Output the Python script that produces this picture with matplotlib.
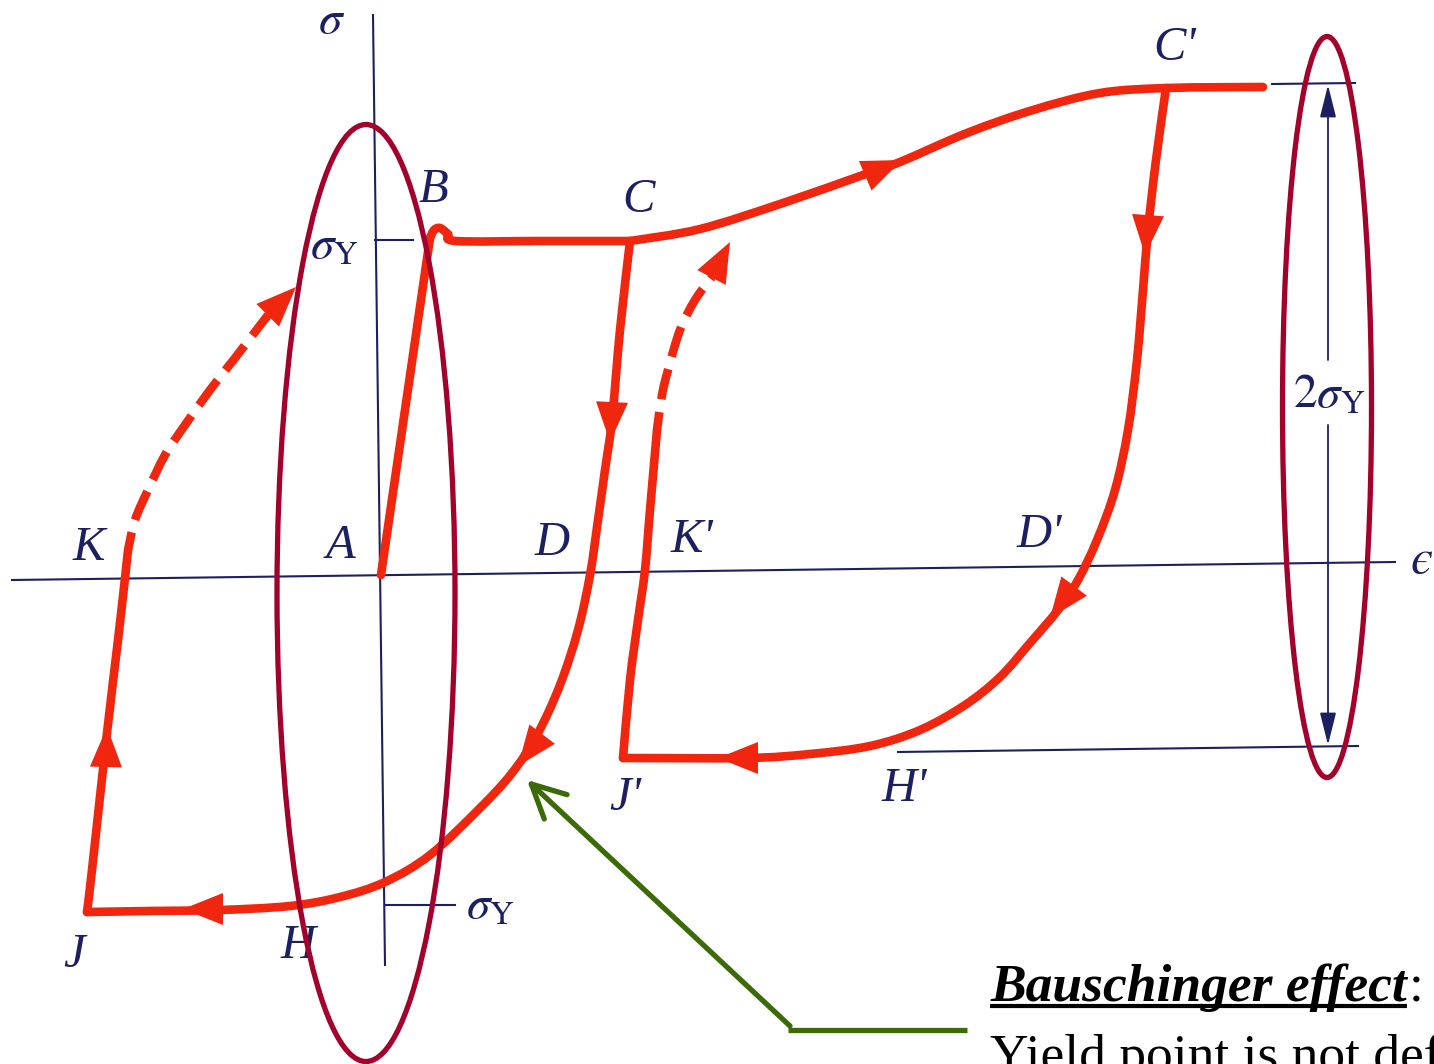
import numpy as np
import matplotlib
matplotlib.use("Agg")
import matplotlib.pyplot as plt
from matplotlib.patches import Ellipse, Polygon, PathPatch
from matplotlib.path import Path

plt.rcParams['mathtext.fontset'] = 'stix'

RED = '#f0260f'
NAVY = '#1c2060'
CRIMSON = '#a3002c'
GREEN = '#3b6a06'

# stress-strain path (pixel coords, y down)
ab_x = [381, 430]
ab_y = [575, 238]
bc_x = [430, 434, 440, 448, 456, 540, 630]
bc_y = [238, 230, 228, 234, 241, 241, 241]

cc_x = [630, 700, 783, 863, 900, 967, 1033, 1100, 1167, 1263]
cc_y = [241, 229, 203, 175, 162, 133, 110, 93, 88, 87]

cdj_x = [1166, 1156, 1148, 1143, 1137, 1128, 1115, 1097, 1078, 1058, 1030, 1000,
         965, 920, 870, 810, 747, 623]
cdj_y = [88, 160, 230, 290, 360, 430, 490, 540, 580, 610, 643, 677,
         705, 730, 746, 754, 758, 758]

jk2_x = [623, 630, 638, 645, 650, 657]
jk2_y = [758, 680, 620, 570, 510, 430]
jk2_dash_x = [657, 662, 668, 680, 695, 712]
jk2_dash_y = [430, 395, 370, 330, 300, 277]

cdh_x = [630, 620, 612, 605, 598, 590, 578, 560, 537, 512, 480, 430, 385, 340,
         290, 220, 150, 87]
cdh_y = [241, 330, 420, 470, 520, 575, 630, 685, 735, 773, 808, 855, 882, 897,
         906, 910, 911, 912]

jk_x = [87, 92, 107, 118, 125, 128]
jk_y = [912, 870, 733, 640, 578, 550]
jk_dash_x = [128, 135, 148, 165, 185, 210, 235, 268]
jk_dash_y = [550, 520, 490, 455, 425, 390, 358, 315]

# arrow heads: tip and direction
heads = [((902, 160), (42, -18)),
         ((1145, 255), (-3, 40)),
         ((1050, 618), (-28, 37)),
         ((718, 758), (-1, 0)),
         ((730, 242), (25, -48)),
         ((610, 442), (-2, 40)),
         ((518, 766), (-25, 33)),
         ((183, 909), (-1, 0)),
         ((107, 727), (1, -38)),
         ((296, 287), (31, -31))]

letters = [('B', 433, 190), ('C', 638, 200), ("C'", 1175, 48),
           ('K', 89, 548), ('A', 341, 546), ('D', 552, 543),
           ("K'", 692, 540), ("D'", 1039, 535), ('J', 74, 955),
           ('H', 298, 946), ("J'", 625, 798), ("H'", 904, 789)]
symbols = [(r'$\sigma$', 332, 20), (r'$\sigma_{\mathrm{Y}}$', 334, 246),
           (r'$2\sigma_{\mathrm{Y}}$', 1329, 395),
           (r'$\sigma_{\mathrm{Y}}$', 490, 906)]


def smooth(xs, ys):
    # cubic bezier through the read points (catmull-rom tangents)
    p = np.column_stack([xs, ys]).astype(float)
    q = np.vstack([p[0], p, p[-1]])
    verts = [p[0]]
    codes = [Path.MOVETO]
    for i in range(len(p) - 1):
        c1 = q[i + 1] + (q[i + 2] - q[i]) / 6
        c2 = q[i + 2] - (q[i + 3] - q[i + 1]) / 6
        verts += [c1, c2, p[i + 1]]
        codes += [Path.CURVE4] * 3
    return Path(verts, codes)


def head(ax, tip, direction, length=40, half=16):
    d = np.array(direction, float)
    d /= np.hypot(*d)
    n = np.array([-d[1], d[0]])
    tip = np.array(tip, float)
    base = tip - length * d
    ax.add_patch(Polygon([tip, base + half * n, base - half * n], closed=True,
                         facecolor=RED, edgecolor='none', zorder=4))


fig = plt.figure(figsize=(14.34, 10.64), dpi=100)
ax = fig.add_axes([0, 0, 1, 1])
ax.set_xlim(0, 1434)
ax.set_ylim(1064, 0)
ax.axis('off')

# axes and guide lines
ax.plot([12, 1395], [580, 562], color=NAVY, lw=1.5)
ax.plot([373, 385], [15, 965], color=NAVY, lw=1.5)
ax.plot([375, 413], [240, 240], color=NAVY, lw=1.5)
ax.plot([385, 455], [905, 905], color=NAVY, lw=1.5)
ax.plot([1272, 1355], [84, 83], color=NAVY, lw=1.5)
ax.plot([898, 1358], [752, 746], color=NAVY, lw=1.5)
for y0, y1 in [(360, 85), (425, 745)]:
    ax.annotate('', xy=(1328, y1), xytext=(1328, y0),
                arrowprops=dict(arrowstyle='-|>,head_length=1.0,head_width=0.25',
                                color=NAVY, lw=1.3, shrinkA=0, shrinkB=0,
                                mutation_scale=20))

# red loading path
ax.plot(ab_x, ab_y, color=RED, lw=6.2, solid_capstyle='round', zorder=3)
for xs, ys in [(bc_x, bc_y), (cc_x, cc_y), (cdj_x, cdj_y), (jk2_x, jk2_y),
               (cdh_x, cdh_y), (jk_x, jk_y)]:
    ax.add_patch(PathPatch(smooth(xs, ys), fill=False, edgecolor=RED, lw=6.2,
                           joinstyle='round', capstyle='round', zorder=3))
for xs, ys in [(jk2_dash_x, jk2_dash_y), (jk_dash_x, jk_dash_y)]:
    ax.add_patch(PathPatch(smooth(xs, ys), fill=False, edgecolor=RED, lw=6.2,
                           ls=(1.5, (3.6, 1.5)), capstyle='butt', zorder=3))
for tip, d in heads:
    head(ax, tip, d)

for s, x, y in letters:
    ax.text(x, y, s, fontsize=35, family='Liberation Serif', style='italic',
            color=NAVY, ha='center', va='center')
for s, x, y in symbols:
    ax.text(x, y, s, fontsize=34, color=NAVY, ha='center', va='center')
ax.text(1422, 561, '\u03f5', fontsize=36, family=['STIXGeneral', 'DejaVu Serif'],
        style='italic', color=NAVY, ha='center', va='center')

# highlight ellipses
ax.add_patch(Ellipse((366, 593), 178, 937, fill=False, edgecolor=CRIMSON, lw=3.8, zorder=5))
ax.add_patch(Ellipse((1327, 407), 89, 741, fill=False, edgecolor=CRIMSON, lw=3.8, zorder=5))

# green pointer
ax.plot([788, 967], [1030, 1030], color=GREEN, lw=3.8, solid_capstyle='butt')
ax.annotate('', xy=(527, 780), xytext=(790, 1026),
            arrowprops=dict(arrowstyle='->,head_length=1.2,head_width=0.6',
                            color=GREEN, lw=3.8, shrinkA=0, shrinkB=0,
                            mutation_scale=20))

# caption
t = ax.text(990, 1001, 'Bauschinger effect', fontsize=38.5, family='Liberation Serif',
            weight='bold', style='italic', color='black', va='baseline')
fig.canvas.draw()
bb = t.get_window_extent(fig.canvas.get_renderer())
inv = ax.transData.inverted()
(x0, _), (x1, _) = inv.transform([(bb.x0, bb.y0), (bb.x1, bb.y0)])
ax.plot([x0, x1], [1006, 1006], color='black', lw=3, solid_capstyle='butt')
ax.text(x1 + 2, 1001, ':', fontsize=38.5, family='Liberation Serif', color='black',
        va='baseline')
ax.text(990, 1071, 'Yield point is not def', fontsize=38.5,
        family='Liberation Serif', color='black', va='baseline')

fig.savefig('out.png', dpi=100)
